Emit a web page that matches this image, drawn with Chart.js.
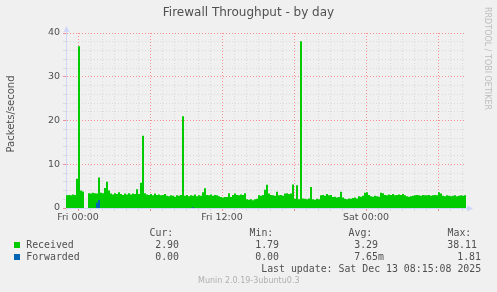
<!DOCTYPE html>
<html>
<head>
<meta charset="utf-8">
<script src="https://cdn.jsdelivr.net/npm/chart.js@4.4.1/dist/chart.umd.min.js"></script>
<style>
  body { margin: 0; background: #f0f0f0; }
  #wrap { position: relative; width: 497px; height: 292px; overflow: hidden; background: #f0f0f0; }
  #wrap canvas { position: absolute; left: 0; top: 0; }
  .t { position: absolute; white-space: pre; font-family: "DejaVu Sans Mono", monospace; font-size: 9.9px; line-height: 12px; color: #505050; }
  .sq { position: absolute; width: 6px; height: 6px; }
  .ytitle { position: absolute; left: -39px; top: 108px; width: 100px; height: 12px; line-height: 12px; text-align: center;
            font-family: "DejaVu Sans", sans-serif; font-size: 10px; color: #505050; transform: rotate(-90deg); white-space: nowrap; }
  .mark { position: absolute; left: 437px; top: 51.5px; width: 100px; height: 10px; line-height: 10px; text-align: center;
          font-family: "DejaVu Sans", sans-serif; font-size: 8px; color: #bdbdbd; transform: rotate(90deg); white-space: nowrap; }
  .munin { position: absolute; left: 198px; top: 276px; font-family: "DejaVu Sans", sans-serif; font-size: 8px; line-height: 10px; color: #b0b0b0; white-space: nowrap; }
</style>
</head>
<body>
<div id="wrap">
  <canvas id="fwChart" width="497" height="292"></canvas>
  <div class="ytitle">Packets/second</div>
  <div class="mark">RRDTOOL / TOBI OETIKER</div>

  <div class="t" style="left:149.5px;top:227px">Cur:</div>
  <div class="t" style="left:249.5px;top:227px">Min:</div>
  <div class="t" style="left:348.5px;top:227px">Avg:</div>
  <div class="t" style="left:447.5px;top:227px">Max:</div>

  <div class="sq" style="left:14px;top:242px;background:#00cc00"></div>
  <div class="t" style="left:26.2px;top:239px">Received</div>
  <div class="t" style="left:155.2px;top:239px">2.90</div>
  <div class="t" style="left:255.2px;top:239px">1.79</div>
  <div class="t" style="left:354.2px;top:239px">3.29</div>
  <div class="t" style="left:447.2px;top:239px">38.11</div>

  <div class="sq" style="left:14px;top:254px;background:#0066b3"></div>
  <div class="t" style="left:26.2px;top:251px">Forwarded</div>
  <div class="t" style="left:155.2px;top:251px">0.00</div>
  <div class="t" style="left:255.2px;top:251px">0.00</div>
  <div class="t" style="left:354.2px;top:251px">7.65m</div>
  <div class="t" style="left:457.2px;top:251px">1.81</div>

  <div class="t" style="left:261.2px;top:263px">Last update: Sat Dec 13 08:15:08 2025</div>
  <div class="munin">Munin 2.0.19-3ubuntu0.3</div>
</div>
<script>
// time axis in hours, 0 = Fri 00:00, one sample every 10 minutes
const startHour = -1;
const stepHours = 1 / 6;
const tickHours = [0, 12, 24];
const tickLabels = ['Fri 00:00', 'Fri 12:00', 'Sat 00:00'];

// packets/second
const received = [
  2.9, 3.0, 2.9, 3.1, 3.0, 6.7, 37.0, 4.0, 3.8, 3.6, null, 3.4, 3.3, 3.5, 3.4, 3.3, 7.0, 3.5, 3.4, 4.6,
  6.0, 4.0, 3.3, 3.1, 3.4, 3.2, 3.6, 3.2, 3.0, 3.3, 3.1, 3.4, 3.1, 3.3, 3.2, 4.3, 3.2, 5.8, 16.5, 3.4,
  3.1, 3.0, 3.2, 2.9, 3.3, 3.0, 3.1, 2.9, 3.0, 3.2, 2.8, 2.7, 2.9, 2.8, 2.6, 2.9, 2.8, 3.0, 21.0, 2.8,
  3.0, 2.7, 2.9, 2.8, 3.1, 2.7, 2.9, 2.8, 3.6, 4.5, 3.0, 2.9, 3.1, 2.8, 3.0, 2.9, 2.7, 2.5, 2.4, 2.5,
  2.5, 3.4, 2.5, 3.0, 3.3, 3.0, 2.9, 3.1, 3.0, 3.4, 2.0, 1.9, 2.0, 1.79, 2.0, 2.1, 2.9, 2.8, 3.0, 4.2,
  5.3, 3.3, 3.0, 2.9, 2.8, 3.7, 2.9, 3.0, 2.8, 3.3, 3.4, 3.2, 3.3, 5.4, 2.1, 5.2, 2.0, 38.11, 2.2, 2.1,
  2.0, 2.2, 4.8, 2.0, 1.9, 2.1, 2.0, 2.9, 3.0, 2.8, 3.2, 2.9, 3.0, 2.5, 2.6, 2.4, 2.5, 3.7, 2.4, 2.1,
  2.0, 2.2, 2.1, 2.3, 2.4, 2.2, 2.7, 2.6, 2.8, 3.5, 3.6, 3.0, 2.7, 2.6, 2.8, 2.7, 2.6, 3.5, 3.4, 3.0,
  2.9, 3.1, 3.0, 3.2, 2.9, 3.0, 3.1, 3.0, 3.2, 2.9, 2.7, 2.6, 2.7, 2.8, 2.9, 3.0, 2.9, 2.8, 3.0, 2.9,
  2.9, 3.0, 2.8, 2.9, 3.0, 2.9, 3.6, 3.3, 2.8, 2.7, 2.9, 2.8, 2.7, 2.8, 2.9, 2.7, 2.8, 2.9, 2.8, 2.9
];
const forwarded = [
  0, 0, 0, 0, 0, 0, 0, 0, 0, 0, null, 0, 0, 0, 0, 1.2, 1.81, 0, 0, 0,
  0, 0, 0, 0, 0, 0, 0, 0, 0, 0, 0, 0, 0, 0, 0, 0, 0, 0, 0, 0,
  0, 0, 0, 0, 0, 0, 0, 0, 0, 0, 0, 0, 0, 0, 0, 0, 0, 0, 0, 0,
  0, 0, 0, 0.2, 0, 0, 0, 0, 0, 0, 0, 0, 0, 0, 0, 0, 0, 0, 0, 0,
  0, 0, 0, 0, 0, 0, 0, 0, 0, 0, 0, 0, 0, 0, 0, 0, 0, 0, 0, 0,
  0, 0, 0, 0, 0, 0, 0, 0, 0, 0, 0, 0, 0, 0, 0, 0, 0, 0, 0, 0,
  0, 0, 0, 0, 0, 0, 0, 0, 0, 0, 0, 0, 0, 0, 0, 0, 0, 0, 0, 0,
  0, 0, 0, 0, 0, 0, 0, 0, 0, 0, 0, 0, 0, 0, 0, 0, 0, 0, 0, 0,
  0, 0, 0, 0, 0, 0, 0, 0, 0, 0, 0, 0, 0, 0, 0, 0, 0, 0, 0, 0,
  0, 0, 0, 0, 0, 0, 0, 0, 0, 0, 0, 0, 0, 0, 0, 0, 0, 0, 0, 0
];

const endHour = startHour + received.length * stepHours;

const axisColor = '#cfd6f8';
const majorGrid = 'rgba(255, 80, 80, 0.6)';
const minorGrid = 'rgba(140, 140, 140, 0.22)';
const fontColor = '#505050';

// each sample holds until the next one, last one closes at the right edge
function toPoints(values) {
    let pts = values.map((v, i) => ({ x: startHour + i * stepHours, y: v }));
    pts.push({ x: endHour, y: values[values.length - 1] });
    return pts;
}

// rrdtool style arrows at the end of both axes
const axisArrows = {
    id: 'axisArrows',
    afterDraw(chart) {
        let ctx = chart.ctx;
        let a = chart.chartArea;
        ctx.save();
        ctx.strokeStyle = axisColor;
        ctx.fillStyle = axisColor;
        ctx.lineWidth = 1;
        ctx.beginPath();
        ctx.moveTo(a.left + 0.5, a.top);
        ctx.lineTo(a.left + 0.5, a.top - 3);
        ctx.moveTo(a.right, a.bottom + 0.5);
        ctx.lineTo(a.right + 3, a.bottom + 0.5);
        ctx.stroke();
        ctx.beginPath();
        ctx.moveTo(a.left + 0.5, a.top - 7);
        ctx.lineTo(a.left - 2.5, a.top - 1);
        ctx.lineTo(a.left + 3.5, a.top - 1);
        ctx.closePath();
        ctx.fill();
        ctx.beginPath();
        ctx.moveTo(a.right + 7, a.bottom + 0.5);
        ctx.lineTo(a.right + 1, a.bottom - 2.5);
        ctx.lineTo(a.right + 1, a.bottom + 3.5);
        ctx.closePath();
        ctx.fill();
        ctx.restore();
    }
};

const tickFont = { family: 'DejaVu Sans', size: 9.5 };

new Chart(document.getElementById('fwChart'), {
    type: 'line',
    data: {
        datasets: [{
            label: 'Received',
            data: toPoints(received),
            backgroundColor: '#00cc00',
            borderWidth: 0,
            pointRadius: 0,
            stepped: 'before',
            fill: 'origin',
            spanGaps: false,
            order: 2
        }, {
            label: 'Forwarded',
            data: toPoints(forwarded),
            backgroundColor: '#0066b3',
            borderWidth: 0,
            pointRadius: 0,
            stepped: 'before',
            fill: 'origin',
            spanGaps: false,
            order: 1
        }]
    },
    options: {
        responsive: false,
        animation: false,
        events: [],
        layout: { padding: { left: 0, right: 0, top: 0, bottom: 64 } },
        plugins: {
            legend: { display: false },
            tooltip: { enabled: false },
            title: {
                display: true,
                text: 'Firewall Throughput - by day',
                color: fontColor,
                font: { family: 'DejaVu Sans', size: 12, weight: 'normal' },
                padding: { top: 6, bottom: 12.6 }
            }
        },
        scales: {
            x: {
                type: 'linear',
                min: startHour,
                max: endHour,
                z: 1,
                ticks: {
                    stepSize: 1,
                    includeBounds: false,
                    autoSkip: false,
                    maxRotation: 0,
                    padding: 1,
                    color: fontColor,
                    font: tickFont,
                    callback: v => {
                        let k = tickHours.indexOf(v);
                        return k >= 0 ? tickLabels[k] : '';
                    }
                },
                grid: {
                    color: c => (c.tick && c.tick.value % 6 === 0) ? majorGrid : minorGrid,
                    lineWidth: 1,
                    tickLength: 3
                },
                border: { color: axisColor, width: 1, dash: [1, 2] },
                afterFit: s => { s.height = 20; }
            },
            y: {
                min: 0,
                max: 40,
                z: 1,
                ticks: {
                    stepSize: 2,
                    autoSkip: false,
                    padding: 3,
                    color: fontColor,
                    font: tickFont,
                    callback: v => (v % 10 === 0 ? String(v) : '')
                },
                grid: {
                    color: c => (c.tick && c.tick.value % 10 === 0) ? majorGrid : minorGrid,
                    lineWidth: 1,
                    tickLength: 3
                },
                border: { color: axisColor, width: 1, dash: [1, 2] },
                afterFit: s => { s.width = 66; }
            },
            yRight: {
                position: 'right',
                display: true,
                grid: { display: false, drawTicks: false },
                ticks: { display: false },
                border: { display: false },
                afterFit: s => { s.width = 31; }
            }
        }
    },
    plugins: [axisArrows]
});
</script>
</body>
</html>
